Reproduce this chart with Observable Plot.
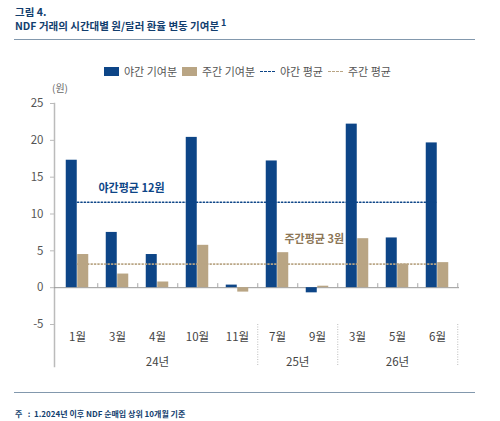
<!DOCTYPE html>
<html><head><meta charset="utf-8">
<script src="https://cdn.jsdelivr.net/npm/d3@7"></script>
<script src="https://cdn.jsdelivr.net/npm/@observablehq/plot@0.6"></script>
<style>
body{margin:0;background:#fff;font-family:"Noto Sans CJK KR","Noto Sans",sans-serif;}
#wrap{position:relative;width:500px;height:421px;overflow:hidden;}
#wrap svg{position:absolute;left:0;top:0;}
.abs{position:absolute;white-space:nowrap;}
.title{left:15px;color:#123e6e;font-weight:700;font-size:10.5px;}
.rule{position:absolute;left:14px;width:461px;height:1px;background:#8298ad;}
.leg{position:absolute;top:63px;font-size:11px;color:#555;display:flex;align-items:center;}
.sw{display:inline-block;width:15px;height:9px;margin-right:5px;}
.ln{display:inline-block;width:15px;height:0;border-top:1.5px dashed;margin-right:5px;}
</style></head>
<body><div id="wrap">
<div class="abs title" style="top:4px;">그림 4.</div>
<div class="abs title" style="top:18px;">NDF 거래의 시간대별 원/달러 환율 변동 기여분<sup style="font-size:9px;position:relative;top:-2px;vertical-align:top;margin-left:2px;">1</sup></div>
<div class="rule" style="top:39px;"></div>
<div id="legend"></div>
<div class="abs" style="left:52px;top:80px;font-size:10px;color:#666;">(원)</div>
<div class="rule" style="top:392px;"></div>
<div class="abs" style="left:15px;top:408px;font-size:8px;color:#123e6e;font-weight:700;">주 &nbsp;&nbsp;: &nbsp;1.2024년 이후 NDF 순매입 상위 10개월 기준</div>
</div>
<script>
// ---- data ----
const categories = ["24-1","24-3","24-4","24-10","24-11","25-7","25-9","26-3","26-5","26-6"];
const monthLabels = ["1월","3월","4월","10월","11월","7월","9월","3월","5월","6월"];
const nightValues = [17.3, 7.5, 4.5, 20.4, 0.35, 17.2, -0.7, 22.2, 6.75, 19.65];
const dayValues   = [4.5, 1.85, 0.77, 5.75, -0.6, 4.75, 0.2, 6.65, 3.2, 3.4];
const nightAvg = 11.6;
const dayAvg = 3.2;
const yTicks = [-5, 0, 5, 10, 15, 20, 25];
const yearGroups = [
  {label:"24년", first:"24-1", last:"24-11"},
  {label:"25년", first:"25-7", last:"25-9"},
  {label:"26년", first:"26-3", last:"26-6"}
];
const seriesNames = ["야간 기여분","주간 기여분","야간 평균","주간 평균"];

const NAVY = "#0d4587", TAN = "#b9a584", TANTEXT = "#8c7656";

const rows = categories.map((c,i)=>({cat:c, month:monthLabels[i], night:nightValues[i], day:dayValues[i]}));

const W = 500, H = 421, mL = 54, mR = 41, mT = 103, mB = 55;
const bw = (W - mL - mR) / categories.length;
const barW = 11.5;

// legend
const leg = document.getElementById("legend");
const legItems = [
  {name:seriesNames[0], kind:"sw", color:NAVY, left:104},
  {name:seriesNames[1], kind:"sw", color:TAN, left:182},
  {name:seriesNames[2], kind:"ln", color:NAVY, left:260},
  {name:seriesNames[3], kind:"ln", color:TAN, left:328}
];
legItems.forEach(it=>{
  const d = document.createElement("div");
  d.className="leg"; d.style.left = it.left+"px";
  const s = document.createElement("span");
  s.className = it.kind;
  if (it.kind==="sw") s.style.background = it.color; else s.style.borderColor = it.color;
  d.appendChild(s);
  d.appendChild(document.createTextNode(it.name));
  leg.appendChild(d);
});

// group centres
const idx = c => categories.indexOf(c);
const yearRows = yearGroups.map(g=>{
  const a = idx(g.first), b = idx(g.last);
  const mid = (a+b)/2;
  const cat = categories[Math.floor(mid)];
  return {label:g.label, cat, dx: (mid - Math.floor(mid))*bw};
});

const chart = Plot.plot({
  width: W, height: H,
  marginLeft: mL, marginRight: mR, marginTop: mT, marginBottom: mB,
  style: {fontFamily: '"Noto Sans CJK KR","Noto Sans",sans-serif', background:"transparent"},
  x: {domain: categories, padding: 0, axis: null},
  y: {domain: [-10.7, 25], axis: null},
  marks: [
    Plot.frame({anchor:"left", stroke:"#bbb", strokeWidth:1.5}),
    Plot.axisY({ticks: yTicks, tickSize: 4, tickPadding: 7, stroke:"#bbb", fontSize: 11.5, color:"#555", label:null, tickFormat: d=>d<0?"-"+Math.abs(d):d}),
    Plot.ruleY([0], {stroke:"#999", strokeWidth:1}),
    Plot.ruleX(categories, {x: d=>d, dx: bw/2, y1: 0, y2: 0.55, stroke:"#aaa"}),
    Plot.barY(rows, {x:"cat", y:"night", fill:NAVY, insetLeft: bw/2 - barW, insetRight: bw/2}),
    Plot.barY(rows, {x:"cat", y:"day", fill:TAN, insetLeft: bw/2, insetRight: bw/2 - barW}),
    Plot.lineY(categories, {x: d=>d, y: ()=>nightAvg, stroke:NAVY, strokeWidth:1.6, strokeDasharray:"1.2 2.2"}),
    Plot.lineY(categories, {x: d=>d, y: ()=>dayAvg, stroke:TAN, strokeWidth:1.6, strokeDasharray:"1.2 2.2"}),
    Plot.text([`야간평균 ${Math.round(nightAvg)}원`], {x: ()=>categories[0], y: ()=>nightAvg, text: d=>d, textAnchor:"start", dx: 21, dy: -14, fill:NAVY, fontWeight:700, fontSize:11}),
    Plot.text([`주간평균 ${Math.round(dayAvg)}원`], {x: ()=>categories[5], y: ()=>dayAvg, text: d=>d, textAnchor:"start", dx: 7, dy: -25, fill:TANTEXT, fontWeight:700, fontSize:11}),
    Plot.text(rows, {x:"cat", text:"month", frameAnchor:"bottom", lineAnchor:"middle", dy:-29, fill:"#444", fontSize:11.5}),
    Plot.text(yearRows.filter(r=>r.dx===0), {x:"cat", text:"label", frameAnchor:"bottom", lineAnchor:"middle", dy:-4, fill:"#444", fontSize:11.5}),
    Plot.text(yearRows.filter(r=>r.dx!==0), {x:"cat", text:"label", frameAnchor:"bottom", lineAnchor:"middle", dy:-4, dx: bw/2, fill:"#444", fontSize:11.5}),
    Plot.ruleX(yearGroups.map(g=>g.last), {x: d=>d, dx: bw/2, y1: -5, y2: -10.7, stroke:"#bbb", strokeDasharray:"1 1.5"})
  ]
});
document.getElementById("wrap").prepend(chart);
</script>
</body></html>
